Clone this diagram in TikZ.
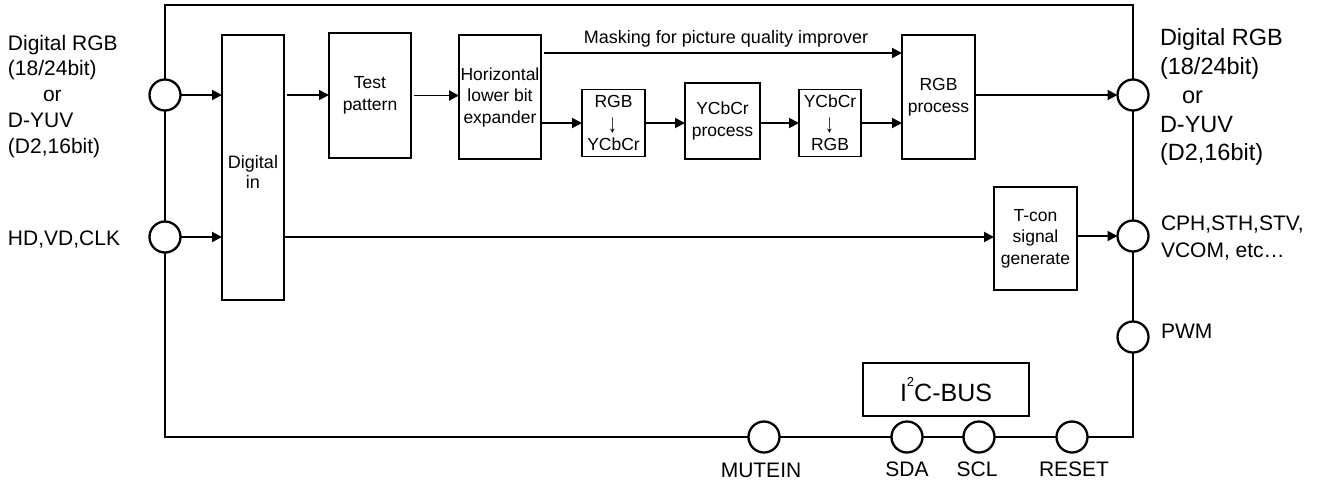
\documentclass[tikz,border=0pt]{standalone}
\usepackage{fontspec}
\setmainfont{Liberation Sans}
\usetikzlibrary{arrows.meta}
\begin{document}
\begin{tikzpicture}[x=1pt,y=-1pt,
  every node/.style={inner sep=0pt,outer sep=0pt},
  blk/.style={draw,line width=1.9pt,align=center,font=\fontsize{17.5}{21.5}\selectfont},
  pin/.style={draw,circle,fill=white,line width=2.3pt,minimum size=31pt},
  lbl/.style={font=\fontsize{21}{25}\selectfont,anchor=base west},
  rlbl/.style={font=\fontsize{23.5}{28}\selectfont,anchor=base west},
  blbl/.style={font=\fontsize{21}{25}\selectfont,anchor=base},
  darr/.style={font=\fontsize{17.5}{21.5}\selectfont},
  conn/.style={line width=1.9pt,-{Triangle[length=10pt,width=10pt]}},
  wire/.style={line width=1.9pt}
]
\useasboundingbox (0,0) rectangle (1325,483);

% outer frame
\draw[wire] (165,5) rectangle (1133,437);

% blocks
\node[blk,minimum width=62pt,minimum height=265pt] (din) at (253,167.5) {};
\node[align=center,font=\fontsize{18}{20}\selectfont] (dintxt) at (253,172) {Digital\\in};
\node[blk,minimum width=82pt,minimum height=125pt] (test) at (370,95.5) {Test\\pattern};
\node[blk,minimum width=82pt,minimum height=124pt] (horiz) at (500,97) {Horizontal\\lower bit\\expander};
\node[blk,minimum width=63pt,minimum height=67pt] (r2y) at (613.5,123) {RGB\\\mbox{}\\YCbCr};
\node[darr] (r2yarr) at (612.5,125.5) {\scalebox{1}[1.5]{↓}};
\node[blk,minimum width=75pt,minimum height=76pt] (yproc) at (722.5,121) {YCbCr\\process};
\node[blk,minimum width=62pt,minimum height=67pt] (y2r) at (830,123) {YCbCr\\\mbox{}\\RGB};
\node[darr] (y2rarr) at (829.5,125.5) {\scalebox{1}[1.5]{↓}};
\node[blk,minimum width=73pt,minimum height=124pt] (rgbp) at (938.5,97) {RGB\\process};
\node[blk,minimum width=83pt,minimum height=103pt] (tcon) at (1035.5,238.5) {T-con\\signal\\generate};
\node[blk,minimum width=166pt,minimum height=53pt,font=\fontsize{25}{30}\selectfont] (i2c) at (946,389.5) {I\raisebox{0.6em}{\fontsize{13}{13}\selectfont 2}C-BUS};

% pins
\node[pin] (inA) at (165,95) {};
\node[pin] (inB) at (165,237) {};
\node[pin] (outA) at (1133,95) {};
\node[pin] (outB) at (1133,236) {};
\node[pin] (pwm) at (1133,337) {};
\node[pin] (mute) at (764,437) {};
\node[pin] (sda) at (907,437) {};
\node[pin] (scl) at (979,437) {};
\node[pin] (rst) at (1072,437) {};

% connectors
\draw[conn] (inA) -- (inA -| din.west);
\draw[conn] (inB) -- (inB -| din.west);
\draw[conn] ([xshift=3pt]din.east |- inA) -- (test.west |- inA);
\draw[conn] ([xshift=3pt]test.east) -- (test.east -| horiz.west);
\draw[conn] (horiz.east |- r2y.west) -- (r2y.west);
\draw[conn] (r2y.east) -- (r2y.east -| yproc.west);
\draw[conn] (yproc.east |- y2r.west) -- (y2r.west);
\draw[conn] (y2r.east) -- (y2r.east -| rgbp.west);
\coordinate (mk) at (544,53);
\draw[conn] (mk) -- (mk -| rgbp.west);
\node[font=\fontsize{18}{22}\selectfont] (mklbl) at (726,39) {Masking for picture quality improver};
\draw[conn] (rgbp.east |- outA) -- (outA);
\draw[conn] (din.east |- inB) -- (inB -| tcon.west);
\draw[conn] (tcon.east |- outB) -- (outB);

% left labels
\node[lbl] (l1) at (8,50) {Digital RGB};
\node[lbl] (l2) at (8,75.75) {(18/24bit)};
\node[lbl] (l3) at (43,101.5) {or};
\node[lbl] (l4) at (8,127.25) {D-YUV};
\node[lbl] (l5) at (8,153) {(D2,16bit)};
\node[lbl] (l6) at (8,245) {HD,VD,CLK};

% right labels
\node[rlbl] (r1) at (1160,45) {Digital RGB};
\node[rlbl] (r2) at (1160,74) {(18/24bit)};
\node[rlbl] (r3) at (1182,103) {or};
\node[rlbl] (r4) at (1160,132) {D-YUV};
\node[rlbl] (r5) at (1160,160) {(D2,16bit)};
\node[lbl] (r6) at (1161,230) {CPH,STH,STV,};
\node[lbl] (r7) at (1161,257) {VCOM, etc…};
\node[lbl] (r8) at (1161,338) {PWM};

% bottom labels
\node[blbl] (b1) at (761,477) {MUTEIN};
\node[blbl] (b2) at (907,476) {SDA};
\node[blbl] (b3) at (977,476) {SCL};
\node[blbl] (b4) at (1074,476) {RESET};
\end{tikzpicture}
\end{document}
